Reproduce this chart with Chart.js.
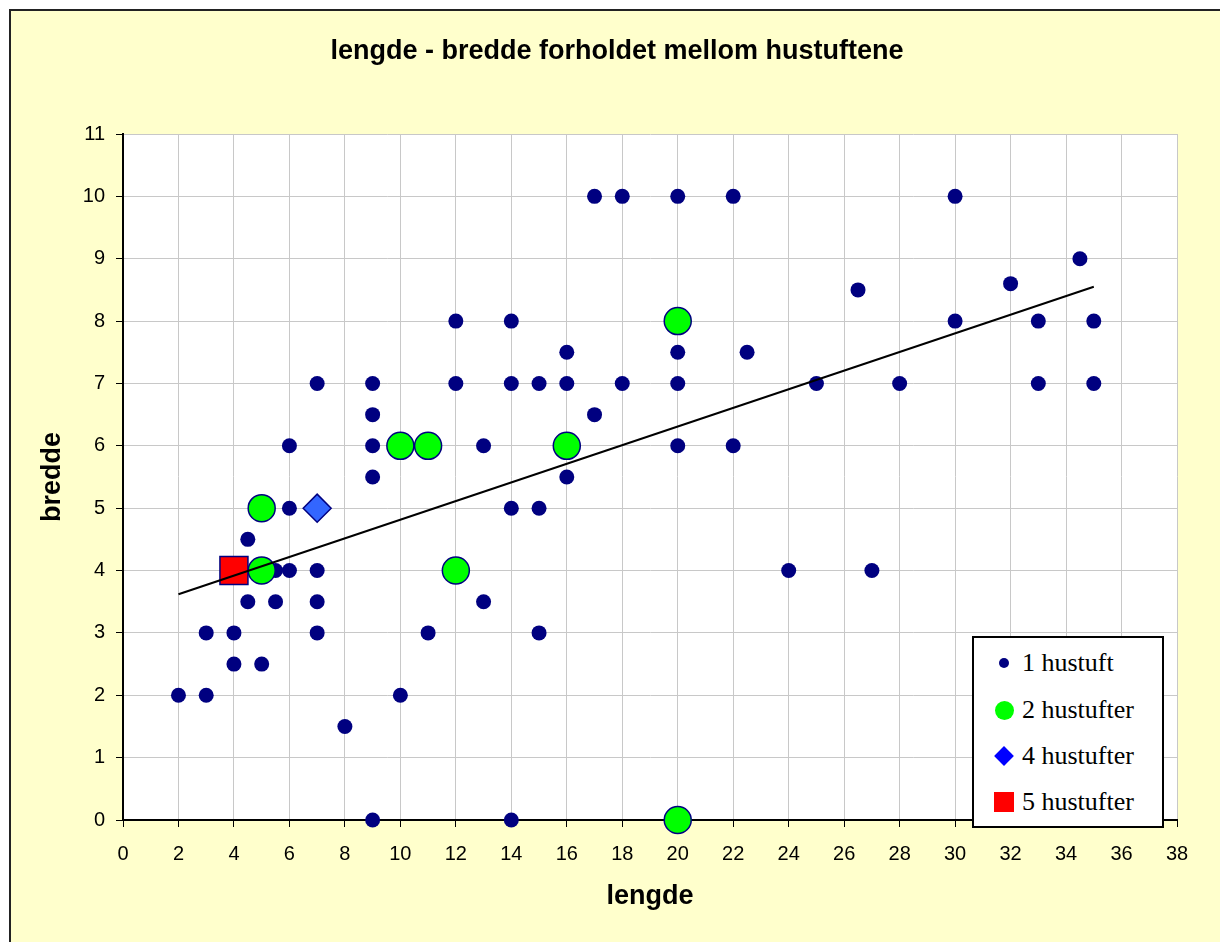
<!DOCTYPE html>
<html>
<head>
<meta charset="utf-8">
<script src="https://cdn.jsdelivr.net/npm/chart.js@4.4.1/dist/chart.umd.min.js"></script>
<style>
  body { margin: 0; background: #fff; }
  #wrap { position: relative; width: 1220px; height: 942px; }
  #legend {
    position: absolute; left: 972px; top: 636px; width: 192px; height: 192px;
    box-sizing: border-box; border: 2px solid #000; background: #fff;
    font-family: "Liberation Serif", "Times New Roman", serif; font-size: 26px; color: #000;
  }
  .item { position: absolute; left: 0; height: 30px; line-height: 30px; width: 188px; }
  .item span { position: absolute; left: 48px; top: 0; white-space: nowrap; }
  .mk { position: absolute; }
</style>
</head>
<body>
<div id="wrap">
  <canvas id="hustufter" width="1220" height="942"></canvas>
  <div id="legend"></div>
</div>
<script>
// 1 hustuft
const oneX = [2, 3, 3, 4, 4, 5, 4.5, 5.5, 4.5, 5.5, 6, 6, 6, 7, 7, 7, 7, 8, 9, 9, 9, 9, 9, 10, 11, 12, 12, 13, 13,
  14, 14, 14, 14, 15, 15, 15, 16, 16, 16, 17, 17, 18, 18, 20, 20, 20, 20, 22, 22, 22.5, 24, 25, 26.5, 27, 28,
  30, 30, 32, 33, 33, 34.5, 35, 35];
const oneY = [2, 2, 3, 3, 2.5, 2.5, 3.5, 3.5, 4.5, 4, 4, 5, 6, 7, 4, 3.5, 3, 1.5, 0, 5.5, 6, 6.5, 7, 2, 3, 7, 8, 6, 3.5,
  8, 7, 5, 0, 7, 5, 3, 7.5, 7, 5.5, 10, 6.5, 10, 7, 10, 7.5, 7, 6, 10, 6, 7.5, 4, 7, 8.5, 4, 7,
  10, 8, 8.6, 8, 7, 9, 8, 7];
// 2 hustufter
const twoX = [5, 5, 10, 11, 12, 16, 20, 20];
const twoY = [5, 4, 6, 6, 4, 6, 8, 0];
// 4 hustufter
const fourX = [7];
const fourY = [5];
// 5 hustufter
const fiveX = [4];
const fiveY = [4];
// trendlinje
const trendX = [2, 35];
const trendY = [3.62, 8.55];

const seriesNames = ['1 hustuft', '2 hustufter', '4 hustufter', '5 hustufter'];
const xTicks = { min: 0, max: 38, step: 2 };
const yTicks = { min: 0, max: 11, step: 1 };

const pts = (xs, ys) => xs.map((x, i) => ({ x: x, y: ys[i] }));
const sans = '"Liberation Sans", Arial, sans-serif';

const bgPlugin = {
  id: 'bg',
  beforeDraw(chart) {
    const c = chart.ctx, a = chart.chartArea;
    c.save();
    c.fillStyle = '#fff';
    c.fillRect(0, 0, chart.width, chart.height);
    c.fillStyle = '#FFFFCC';
    c.fillRect(10, 10, chart.width, chart.height);
    c.strokeStyle = '#222';
    c.lineWidth = 2;
    c.beginPath();
    c.moveTo(10, chart.height);
    c.lineTo(10, 10);
    c.lineTo(chart.width, 10);
    c.stroke();
    c.fillStyle = '#fff';
    c.fillRect(a.left, a.top, a.right - a.left, a.bottom - a.top);
    c.fillStyle = '#000';
    c.font = 'bold 27px ' + sans;
    c.textAlign = 'center';
    c.textBaseline = 'middle';
    c.fillText('lengde - bredde forholdet mellom hustuftene', 617, 52);
    c.restore();
  }
};

new Chart(document.getElementById('hustufter'), {
  type: 'scatter',
  data: {
    datasets: [
      {
        type: 'line', label: 'trend', data: pts(trendX, trendY), borderColor: '#000', borderWidth: 2,
        pointRadius: 0, fill: false, order: 0, clip: false
      },
      {
        label: seriesNames[3], data: pts(fiveX, fiveY), pointStyle: 'rect', pointRadius: 19.8,
        backgroundColor: '#FF0000', borderColor: '#000080', borderWidth: 1.5, order: 1, clip: false
      },
      {
        label: seriesNames[2], data: pts(fourX, fourY), pointStyle: 'rectRot', pointRadius: 14,
        backgroundColor: '#3366FF', borderColor: '#000080', borderWidth: 1.5, order: 2, clip: false
      },
      {
        label: seriesNames[1], data: pts(twoX, twoY), pointStyle: 'circle', pointRadius: 13.5,
        backgroundColor: '#00FF00', borderColor: '#000080', borderWidth: 1.5, order: 3, clip: false
      },
      {
        label: seriesNames[0], data: pts(oneX, oneY), pointStyle: 'circle', pointRadius: 7.5,
        backgroundColor: '#000080', borderWidth: 0, order: 4, clip: false
      }
    ]
  },
  options: {
    responsive: false,
    animation: false,
    layout: { padding: { left: 0, top: 134, right: 43, bottom: 0 } },
    plugins: {
      legend: { display: false },
      tooltip: { enabled: false }
    },
    scales: {
      x: {
        type: 'linear',
        min: xTicks.min,
        max: xTicks.max,
        afterFit: (s) => { s.height = 122; },
        ticks: { stepSize: xTicks.step, color: '#000', font: { family: sans, size: 20 }, padding: 15 },
        grid: { color: '#c8c8c8', tickColor: '#000', tickLength: 7 },
        border: { color: '#000', width: 2 },
        title: { display: true, text: 'lengde', color: '#000', font: { family: sans, size: 27, weight: 'bold' },
          padding: { top: 0, bottom: 29 } }
      },
      y: {
        type: 'linear',
        min: yTicks.min,
        max: yTicks.max,
        afterFit: (s) => { s.width = 123; },
        ticks: { stepSize: yTicks.step, color: '#000', font: { family: sans, size: 20 }, padding: 11 },
        grid: { color: '#c8c8c8', tickColor: '#000', tickLength: 7 },
        border: { color: '#000', width: 2 },
        title: { display: true, text: 'bredde', color: '#000', font: { family: sans, size: 27, weight: 'bold' },
          padding: { top: 36, bottom: 0 } }
      }
    }
  },
  plugins: [bgPlugin]
});

// legend i plottet
const legendMarks = [
  'width:10px;height:10px;border-radius:50%;background:#000080;',
  'width:19px;height:19px;border-radius:50%;background:#00FF00;',
  'width:14px;height:14px;background:#0000FF;transform:rotate(45deg);',
  'width:20px;height:20px;background:#FF0000;'
];
const legendRows = [27, 74, 120, 166];
const legend = document.getElementById('legend');
seriesNames.forEach((name, i) => {
  const row = document.createElement('div');
  row.className = 'item';
  row.style.top = (legendRows[i] - 2 - 15) + 'px';
  const mk = document.createElement('div');
  mk.className = 'mk';
  mk.style.cssText += legendMarks[i];
  const size = parseFloat(mk.style.width);
  mk.style.left = (30 - size / 2) + 'px';
  mk.style.top = (15 - size / 2) + 'px';
  const txt = document.createElement('span');
  txt.textContent = name;
  row.appendChild(mk);
  row.appendChild(txt);
  legend.appendChild(row);
});
</script>
</body>
</html>
